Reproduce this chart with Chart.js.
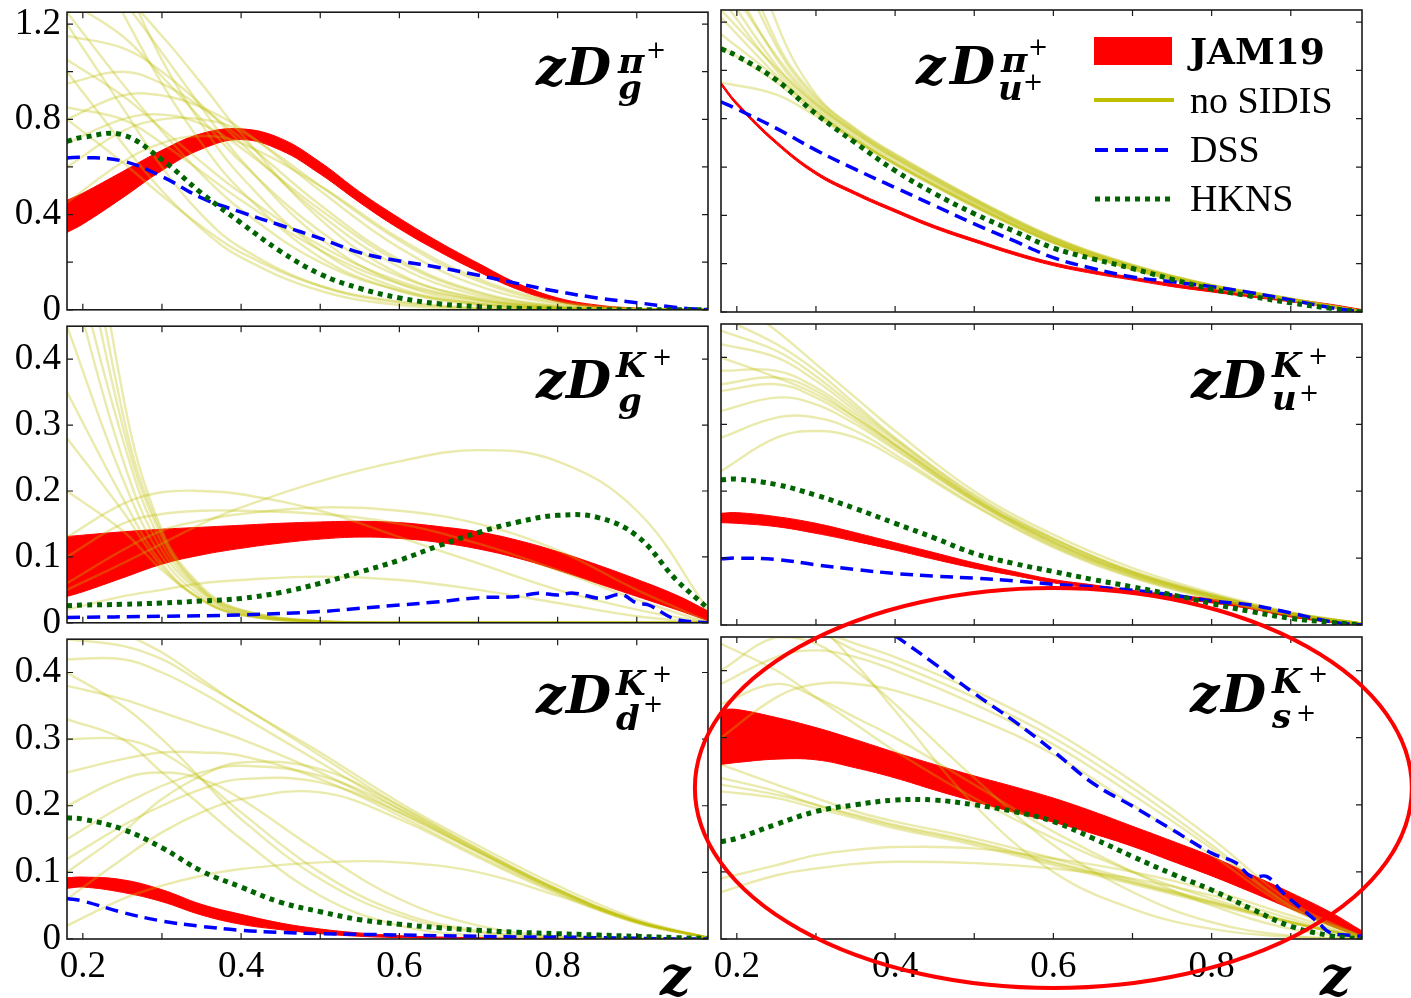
<!DOCTYPE html>
<html>
<head>
<meta charset="utf-8">
<title>Fragmentation functions</title>
<script src="https://cdn.jsdelivr.net/npm/chart.js@4.4.1/dist/chart.umd.min.js"></script>
<style>
  html, body { margin: 0; padding: 0; background: #fff; }
  #page { position: relative; width: 1411px; height: 998px; overflow: hidden; font-family: "Liberation Serif", "Times New Roman", serif; }
  #page canvas { position: absolute; }
  .glyph { position: absolute; white-space: nowrap; line-height: 1; color: #000; }
</style>
</head>
<body>
<div id="page"></div>
<script>
// ---- z grids ----
const zGrid = [0.18, 0.2, 0.25, 0.3, 0.35, 0.4, 0.45, 0.5, 0.55, 0.6, 0.65, 0.7, 0.75, 0.8, 0.85, 0.9, 0.95, 0.99];
const zRep = [0.18, 0.25, 0.3, 0.35, 0.4, 0.5, 0.6, 0.7, 0.8, 0.9, 0.99];

// ---- zD_g^pi+ ----
const jamLo_gPi = [0.325, 0.36, 0.47, 0.585, 0.675, 0.715, 0.67, 0.57, 0.45, 0.34, 0.245, 0.16, 0.085, 0.035, 0.012, 0.003, 0, 0];
const jamHi_gPi = [0.46, 0.49, 0.58, 0.67, 0.74, 0.76, 0.72, 0.62, 0.495, 0.385, 0.285, 0.195, 0.11, 0.05, 0.02, 0.007, 0.001, 0];
const dss_gPi = [0.638, 0.64, 0.625, 0.56, 0.47, 0.41, 0.355, 0.3, 0.24, 0.205, 0.178, 0.145, 0.11, 0.077, 0.05, 0.03, 0.01, 0];
const hkns_gPi = [0.708, 0.725, 0.735, 0.63, 0.49, 0.365, 0.245, 0.15, 0.09, 0.05, 0.025, 0.013, 0.006, 0.003, 0.001, 0, 0, 0];
const noSidis_gPi = [
  [1.7, 1.25, 0.95, 0.7, 0.5, 0.22, 0.08, 0.02, 0.004, 0, 0],
  [1.55, 1.3, 1.08, 0.85, 0.63, 0.3, 0.11, 0.03, 0.005, 0, 0],
  [1.45, 1.32, 1.15, 0.95, 0.74, 0.38, 0.15, 0.045, 0.008, 0, 0],
  [1.15, 1.1, 1.0, 0.86, 0.7, 0.4, 0.18, 0.06, 0.012, 0.001, 0],
  [0.95, 1.0, 0.95, 0.85, 0.72, 0.44, 0.21, 0.075, 0.016, 0.001, 0],
  [0.8, 0.9, 0.9, 0.85, 0.76, 0.5, 0.26, 0.1, 0.025, 0.003, 0],
  [0.6, 0.75, 0.8, 0.8, 0.75, 0.52, 0.29, 0.12, 0.03, 0.004, 0],
  [0.45, 0.62, 0.7, 0.73, 0.7, 0.52, 0.3, 0.13, 0.035, 0.005, 0],
  [1.25, 0.95, 0.75, 0.57, 0.42, 0.2, 0.08, 0.025, 0.005, 0, 0],
  [0.85, 0.8, 0.7, 0.58, 0.46, 0.25, 0.11, 0.04, 0.008, 0, 0],
  [1.05, 0.9, 0.76, 0.62, 0.49, 0.27, 0.12, 0.04, 0.008, 0, 0],
  [0.7, 0.8, 0.82, 0.78, 0.68, 0.42, 0.2, 0.07, 0.015, 0.001, 0],
  [1.9, 1.4, 1.05, 0.78, 0.56, 0.25, 0.09, 0.025, 0.004, 0, 0],
  [1.3, 1.15, 0.98, 0.8, 0.62, 0.33, 0.14, 0.05, 0.01, 0, 0],
  [1.0, 0.7, 0.5, 0.34, 0.22, 0.08, 0.02, 0.004, 0, 0, 0],
  [1.2, 0.85, 0.6, 0.4, 0.26, 0.1, 0.03, 0.006, 0, 0, 0],
  [0.8, 0.62, 0.48, 0.35, 0.24, 0.1, 0.035, 0.008, 0, 0, 0]
];

// ---- zD_u+^pi+ ----
const jamLo_uPi = [0.939, 0.856, 0.695, 0.569, 0.485, 0.413, 0.346, 0.29, 0.237, 0.192, 0.159, 0.132, 0.105, 0.083, 0.062, 0.042, 0.02, 0.001];
const jamHi_uPi = [0.951, 0.868, 0.707, 0.581, 0.497, 0.425, 0.358, 0.302, 0.249, 0.204, 0.171, 0.144, 0.117, 0.095, 0.074, 0.054, 0.032, 0.01];
const dss_uPi = [0.87, 0.84, 0.76, 0.67, 0.59, 0.515, 0.44, 0.365, 0.295, 0.225, 0.18, 0.145, 0.125, 0.105, 0.08, 0.05, 0.018, 0];
const hkns_uPi = [1.09, 1.06, 0.96, 0.82, 0.7, 0.585, 0.49, 0.407, 0.335, 0.265, 0.22, 0.18, 0.135, 0.095, 0.065, 0.038, 0.015, 0];
const noSidis_uPi = [
  [1.45, 1.05, 0.86, 0.74, 0.64, 0.46, 0.3, 0.19, 0.11, 0.054, 0.003],
  [1.35, 1.02, 0.85, 0.73, 0.63, 0.45, 0.295, 0.185, 0.107, 0.052, 0.003],
  [1.3, 1.0, 0.84, 0.72, 0.62, 0.445, 0.29, 0.18, 0.105, 0.05, 0.003],
  [1.22, 0.98, 0.83, 0.715, 0.615, 0.44, 0.288, 0.178, 0.103, 0.049, 0.002],
  [1.15, 0.97, 0.83, 0.71, 0.61, 0.435, 0.285, 0.176, 0.1, 0.048, 0.002],
  [0.95, 0.9, 0.81, 0.71, 0.615, 0.44, 0.29, 0.18, 0.104, 0.05, 0.003],
  [1.6, 1.1, 0.88, 0.75, 0.65, 0.47, 0.31, 0.195, 0.112, 0.056, 0.003],
  [1.25, 1.01, 0.86, 0.74, 0.635, 0.455, 0.3, 0.19, 0.11, 0.054, 0.003],
  [1.9, 1.2, 0.9, 0.76, 0.655, 0.47, 0.31, 0.195, 0.11, 0.055, 0.003],
  [1.4, 1.06, 0.87, 0.745, 0.64, 0.46, 0.302, 0.188, 0.108, 0.053, 0.003],
  [1.7, 1.12, 0.89, 0.755, 0.648, 0.465, 0.306, 0.192, 0.111, 0.055, 0.003],
  [1.1, 0.95, 0.82, 0.712, 0.612, 0.438, 0.287, 0.177, 0.102, 0.049, 0.002]
];

// ---- zD_g^K+ ----
const jamLo_gK = [0.04, 0.047, 0.068, 0.089, 0.103, 0.113, 0.121, 0.127, 0.13, 0.128, 0.122, 0.112, 0.098, 0.08, 0.06, 0.04, 0.02, 0.003];
const jamHi_gK = [0.131, 0.133, 0.138, 0.142, 0.145, 0.148, 0.151, 0.153, 0.154, 0.152, 0.146, 0.138, 0.125, 0.108, 0.088, 0.066, 0.042, 0.018];
const dssZ_gK = [0.18, 0.3, 0.4, 0.5, 0.55, 0.6, 0.65, 0.7, 0.75, 0.775, 0.8, 0.82, 0.855, 0.88, 0.9, 0.915, 0.95, 0.99];
const dss_gK = [0.008, 0.01, 0.012, 0.017, 0.022, 0.027, 0.032, 0.038, 0.04, 0.045, 0.042, 0.045, 0.037, 0.043, 0.03, 0.027, 0.005, 0];
const hkns_gK = [0.026, 0.027, 0.028, 0.03, 0.033, 0.037, 0.046, 0.06, 0.077, 0.095, 0.117, 0.137, 0.153, 0.163, 0.16, 0.132, 0.065, 0.022];
const noSidis_gK = [
  [0.7, 0.3, 0.13, 0.05, 0.018, 0.002, 0, 0, 0, 0, 0],
  [0.55, 0.25, 0.11, 0.045, 0.015, 0.002, 0, 0, 0, 0, 0],
  [0.45, 0.22, 0.1, 0.04, 0.014, 0.002, 0, 0, 0, 0, 0],
  [0.35, 0.19, 0.09, 0.035, 0.012, 0.001, 0, 0, 0, 0, 0],
  [0.28, 0.17, 0.085, 0.035, 0.012, 0.001, 0, 0, 0, 0, 0],
  [0.2, 0.14, 0.08, 0.035, 0.012, 0.001, 0, 0, 0, 0, 0],
  [0.9, 0.35, 0.14, 0.055, 0.02, 0.002, 0, 0, 0, 0, 0],
  [0.6, 0.28, 0.12, 0.048, 0.016, 0.002, 0, 0, 0, 0, 0],
  [0.8, 0.32, 0.135, 0.052, 0.019, 0.002, 0, 0, 0, 0, 0],
  [0.05, 0.09, 0.12, 0.15, 0.175, 0.215, 0.245, 0.262, 0.245, 0.17, 0.02],
  [0.13, 0.18, 0.198, 0.2, 0.195, 0.17, 0.13, 0.09, 0.05, 0.02, 0],
  [0.1, 0.15, 0.165, 0.17, 0.17, 0.165, 0.15, 0.12, 0.08, 0.035, 0],
  [0.06, 0.11, 0.14, 0.155, 0.165, 0.175, 0.17, 0.15, 0.11, 0.05, 0.002],
  [0.02, 0.04, 0.05, 0.06, 0.065, 0.07, 0.065, 0.05, 0.03, 0.01, 0]
];

// ---- zD_u+^K+ ----
const jamLo_uK = [0.153, 0.152, 0.147, 0.137, 0.125, 0.112, 0.098, 0.085, 0.074, 0.063, 0.055, 0.047, 0.04, 0.033, 0.024, 0.012, 0.004, 0];
const jamHi_uK = [0.167, 0.168, 0.162, 0.152, 0.138, 0.123, 0.108, 0.093, 0.08, 0.068, 0.06, 0.052, 0.045, 0.039, 0.029, 0.018, 0.008, 0.002];
const dss_uK = [0.099, 0.1, 0.098, 0.09, 0.083, 0.077, 0.073, 0.07, 0.066, 0.061, 0.057, 0.052, 0.045, 0.036, 0.03, 0.018, 0.005, 0];
const hkns_uK = [0.217, 0.218, 0.21, 0.194, 0.174, 0.152, 0.13, 0.107, 0.092, 0.08, 0.068, 0.057, 0.045, 0.032, 0.02, 0.01, 0.004, 0];
const noSidis_uK = [
  [0.46, 0.42, 0.38, 0.33, 0.28, 0.195, 0.13, 0.08, 0.045, 0.018, 0.002],
  [0.42, 0.4, 0.365, 0.32, 0.275, 0.19, 0.125, 0.078, 0.044, 0.017, 0.002],
  [0.38, 0.38, 0.355, 0.315, 0.27, 0.19, 0.125, 0.077, 0.043, 0.017, 0.002],
  [0.35, 0.36, 0.34, 0.305, 0.265, 0.185, 0.122, 0.075, 0.042, 0.016, 0.002],
  [0.32, 0.34, 0.33, 0.3, 0.262, 0.185, 0.12, 0.074, 0.041, 0.016, 0.002],
  [0.28, 0.31, 0.31, 0.29, 0.255, 0.18, 0.118, 0.072, 0.04, 0.015, 0.002],
  [0.23, 0.28, 0.29, 0.28, 0.25, 0.178, 0.116, 0.071, 0.039, 0.015, 0.002],
  [0.5, 0.44, 0.39, 0.34, 0.29, 0.2, 0.135, 0.085, 0.048, 0.019, 0.002],
  [0.4, 0.37, 0.345, 0.31, 0.27, 0.188, 0.128, 0.08, 0.046, 0.018, 0.002],
  [0.44, 0.41, 0.372, 0.325, 0.278, 0.193, 0.129, 0.079, 0.045, 0.018, 0.002],
  [0.36, 0.37, 0.35, 0.31, 0.268, 0.187, 0.123, 0.076, 0.043, 0.017, 0.002]
];

// ---- zD_d+^K+ ----
const jamLo_dK = [0.076, 0.078, 0.07, 0.056, 0.036, 0.022, 0.014, 0.008, 0.004, 0.002, 0.001, 0, 0, 0, 0, 0, 0, 0];
const jamHi_dK = [0.092, 0.093, 0.089, 0.074, 0.052, 0.037, 0.024, 0.015, 0.009, 0.005, 0.003, 0.002, 0.001, 0.001, 0, 0, 0, 0];
const dss_dK = [0.061, 0.057, 0.04, 0.027, 0.019, 0.013, 0.01, 0.008, 0.007, 0.006, 0.005, 0.004, 0.003, 0.003, 0.002, 0.001, 0, 0];
const hkns_dK = [0.182, 0.18, 0.165, 0.137, 0.102, 0.078, 0.055, 0.041, 0.029, 0.022, 0.017, 0.013, 0.01, 0.008, 0.006, 0.004, 0.002, 0.001];
const noSidis_dK = [
  [0.5, 0.46, 0.43, 0.39, 0.35, 0.28, 0.205, 0.14, 0.08, 0.03, 0.002],
  [0.45, 0.44, 0.42, 0.385, 0.35, 0.275, 0.2, 0.135, 0.075, 0.027, 0.002],
  [0.38, 0.36, 0.34, 0.32, 0.3, 0.25, 0.19, 0.13, 0.072, 0.026, 0.002],
  [0.25, 0.27, 0.28, 0.28, 0.275, 0.24, 0.185, 0.125, 0.07, 0.025, 0.002],
  [0.12, 0.17, 0.2, 0.225, 0.24, 0.235, 0.19, 0.13, 0.072, 0.026, 0.002],
  [0.06, 0.12, 0.16, 0.19, 0.21, 0.22, 0.18, 0.122, 0.068, 0.024, 0.002],
  [0.3, 0.3, 0.28, 0.24, 0.19, 0.1, 0.04, 0.012, 0.002, 0, 0],
  [0.4, 0.35, 0.3, 0.24, 0.18, 0.09, 0.035, 0.01, 0.002, 0, 0],
  [0.2, 0.24, 0.25, 0.24, 0.21, 0.13, 0.06, 0.02, 0.004, 0, 0],
  [0.02, 0.06, 0.08, 0.095, 0.105, 0.115, 0.115, 0.1, 0.065, 0.025, 0.002],
  [0.15, 0.2, 0.23, 0.25, 0.26, 0.245, 0.195, 0.132, 0.073, 0.026, 0.002],
  [0.33, 0.3, 0.25, 0.2, 0.15, 0.065, 0.02, 0.005, 0, 0, 0],
  [0.42, 0.42, 0.4, 0.37, 0.335, 0.265, 0.195, 0.132, 0.074, 0.027, 0.002],
  [0.1, 0.16, 0.21, 0.245, 0.265, 0.255, 0.2, 0.135, 0.075, 0.027, 0.002]
];

// ---- zD_s+^K+ ----
const jamLo_sK = [0.26, 0.263, 0.268, 0.267, 0.255, 0.24, 0.222, 0.205, 0.189, 0.174, 0.157, 0.138, 0.116, 0.094, 0.07, 0.045, 0.02, 0.002];
const jamHi_sK = [0.342, 0.342, 0.33, 0.315, 0.297, 0.278, 0.26, 0.243, 0.227, 0.21, 0.19, 0.168, 0.146, 0.123, 0.096, 0.069, 0.04, 0.012];
const dssZ_sK = [0.4, 0.45, 0.5, 0.55, 0.6, 0.65, 0.7, 0.75, 0.8, 0.83, 0.85, 0.87, 0.89, 0.915, 0.935, 0.95, 0.97, 0.99];
const dss_sK = [0.452, 0.41, 0.366, 0.325, 0.28, 0.232, 0.198, 0.163, 0.128, 0.114, 0.093, 0.093, 0.069, 0.044, 0.024, 0.009, 0.006, 0.004];
const hkns_sK = [0.145, 0.15, 0.171, 0.19, 0.2, 0.207, 0.207, 0.2, 0.19, 0.175, 0.15, 0.123, 0.097, 0.073, 0.045, 0.019, 0.005, 0];
const noSidis_sK = [
  [0.5, 0.48, 0.46, 0.43, 0.41, 0.36, 0.3, 0.225, 0.14, 0.05, 0.003],
  [0.45, 0.47, 0.46, 0.44, 0.42, 0.37, 0.31, 0.235, 0.15, 0.055, 0.003],
  [0.38, 0.42, 0.43, 0.42, 0.4, 0.35, 0.29, 0.215, 0.135, 0.048, 0.003],
  [0.3, 0.36, 0.38, 0.38, 0.37, 0.33, 0.275, 0.2, 0.125, 0.045, 0.003],
  [0.45, 0.5, 0.47, 0.41, 0.34, 0.2, 0.1, 0.045, 0.015, 0.003, 0],
  [0.4, 0.45, 0.44, 0.4, 0.35, 0.24, 0.14, 0.07, 0.025, 0.005, 0],
  [0.24, 0.22, 0.2, 0.185, 0.17, 0.145, 0.115, 0.085, 0.055, 0.025, 0.002],
  [0.26, 0.23, 0.21, 0.19, 0.175, 0.15, 0.12, 0.088, 0.056, 0.026, 0.002],
  [0.22, 0.21, 0.195, 0.18, 0.165, 0.14, 0.11, 0.082, 0.052, 0.024, 0.002],
  [0.09, 0.11, 0.125, 0.133, 0.137, 0.135, 0.12, 0.1, 0.072, 0.035, 0.003],
  [0.07, 0.095, 0.105, 0.112, 0.115, 0.113, 0.105, 0.09, 0.065, 0.03, 0.002],
  [0.35, 0.38, 0.36, 0.33, 0.3, 0.23, 0.16, 0.1, 0.05, 0.015, 0.001],
  [0.44, 0.4, 0.36, 0.32, 0.28, 0.21, 0.15, 0.1, 0.06, 0.025, 0.002],
  [0.23, 0.215, 0.2, 0.183, 0.168, 0.143, 0.113, 0.084, 0.054, 0.025, 0.002]
];

// legend entries
const legendNames = ['JAM19', 'no SIDIS', 'DSS', 'HKNS'];

// ---- layout ----
const FONT = '"Liberation Serif", "Times New Roman", serif';
const MATH = '"DejaVu Serif", serif';
const colX = [[67, 708], [721, 1362]];
const rowY = [[10, 312], [324, 625], [637, 939]];
const RED = '#ff0000', OLIVE = 'rgba(191,191,0,0.32)', BLUE = '#0000ff', GREEN = '#006400';

const page = document.getElementById('page');

// place a text run by its baseline (m = DejaVu Serif, otherwise Liberation Serif)
function addGlyph(text, left, baseline, size, style) {
  const el = document.createElement('span');
  const math = style.indexOf('m') >= 0;
  el.className = 'glyph';
  el.textContent = text;
  el.style.fontFamily = math ? MATH : FONT;
  el.style.fontSize = size + 'px';
  el.style.left = left + 'px';
  el.style.top = (baseline - (math ? 0.846 : 0.8375) * size) + 'px';
  if (style.indexOf('b') >= 0) el.style.fontWeight = 'bold';
  if (style.indexOf('i') >= 0) el.style.fontStyle = 'italic';
  page.appendChild(el);
  return el;
}

// inward ticks on all four sides plus the frame
const framePlugin = {
  id: 'frame',
  afterDatasetsDraw(chart) {
    const { ctx, chartArea: a, scales: { x, y } } = chart;
    ctx.save();
    ctx.strokeStyle = '#1a1a1a';
    ctx.lineWidth = 1.2;
    ctx.beginPath();
    x.ticks.forEach(t => {
      const px = x.getPixelForValue(t.value);
      ctx.moveTo(px, a.top); ctx.lineTo(px, a.top + 6);
      ctx.moveTo(px, a.bottom); ctx.lineTo(px, a.bottom - 6);
    });
    y.ticks.forEach(t => {
      const py = y.getPixelForValue(t.value);
      ctx.moveTo(a.left, py); ctx.lineTo(a.left + 6, py);
      ctx.moveTo(a.right, py); ctx.lineTo(a.right - 6, py);
    });
    ctx.stroke();
    ctx.lineWidth = 1.6;
    ctx.strokeRect(a.left, a.top, a.right - a.left, a.bottom - a.top);
    ctx.restore();
  }
};

function pts(zs, vs) { return vs.map((v, i) => ({ x: zs[i], y: v })); }

// title pieces: [text, left, baseline, size, style] relative to the panel box
const panels = [
  { col: 0, row: 0, yMax: 1.25, yStep: 0.2, every: 2, lo: jamLo_gPi, hi: jamHi_gPi, dssZ: zGrid, dss: dss_gPi, hkns: hkns_gPi, reps: noSidis_gPi,
    title: [['z', 469, 75, 52, 'mbi'], ['D', 499, 75, 52, 'mbi'], ['\u03c0', 551, 62, 36, 'mbi'], ['+', 579, 48, 24, 'm'], ['g', 551, 89, 34, 'mbi']] },
  { col: 1, row: 0, yMax: 1.25, yStep: 0.2, every: 2, lo: jamLo_uPi, hi: jamHi_uPi, dssZ: zGrid, dss: dss_uPi, hkns: hkns_uPi, reps: noSidis_uPi,
    title: [['z', 195, 74, 52, 'mbi'], ['D', 229, 74, 52, 'mbi'], ['\u03c0', 280, 61, 36, 'mbi'], ['+', 307, 45, 24, 'm'], ['u', 277, 90, 34, 'mbi'], ['+', 302, 80, 24, 'm']] },
  { col: 0, row: 1, yMax: 0.45, yStep: 0.1, every: 1, lo: jamLo_gK, hi: jamHi_gK, dssZ: dssZ_gK, dss: dss_gK, hkns: hkns_gK, reps: noSidis_gK,
    title: [['z', 469, 74, 52, 'mbi'], ['D', 499, 74, 52, 'mbi'], ['K', 549, 53, 34, 'mbi'], ['+', 585, 41, 24, 'm'], ['g', 551, 88, 34, 'mbi']] },
  { col: 1, row: 1, yMax: 0.45, yStep: 0.1, every: 1, lo: jamLo_uK, hi: jamHi_uK, dssZ: zGrid, dss: dss_uK, hkns: hkns_uK, reps: noSidis_uK,
    title: [['z', 470, 74, 52, 'mbi'], ['D', 500, 74, 52, 'mbi'], ['K', 551, 53, 34, 'mbi'], ['+', 587, 40, 24, 'm'], ['u', 551, 86, 34, 'mbi'], ['+', 578, 77, 24, 'm']] },
  { col: 0, row: 2, yMax: 0.45, yStep: 0.1, every: 1, lo: jamLo_dK, hi: jamHi_dK, dssZ: zGrid, dss: dss_dK, hkns: hkns_dK, reps: noSidis_dK,
    title: [['z', 469, 76, 52, 'mbi'], ['D', 499, 76, 52, 'mbi'], ['K', 549, 58, 34, 'mbi'], ['+', 585, 45, 24, 'm'], ['d', 549, 93, 34, 'mbi'], ['+', 576, 75, 24, 'm']] },
  { col: 1, row: 2, yMax: 0.45, yStep: 0.1, every: 1, lo: jamLo_sK, hi: jamHi_sK, dssZ: dssZ_sK, dss: dss_sK, hkns: hkns_sK, reps: noSidis_sK,
    title: [['z', 469, 75, 52, 'mbi'], ['D', 500, 75, 52, 'mbi'], ['K', 551, 56, 34, 'mbi'], ['+', 587, 45, 24, 'm'], ['s', 551, 91, 34, 'mbi'], ['+', 575, 84, 24, 'm']] }
];

const charts = [];

panels.forEach(p => {
  const [l, r] = colX[p.col];
  const [t, b] = rowY[p.row];
  const ML = p.col === 0 ? 67 : 20, MR = 6, MT = 26, MB = p.row === 2 ? 60 : 26;
  const cv = document.createElement('canvas');
  cv.width = (r - l) + ML + MR;
  cv.height = (b - t) + MT + MB;
  cv.style.left = (l - ML) + 'px';
  cv.style.top = (t - MT) + 'px';
  page.appendChild(cv);

  const datasets = [
    { label: 'HKNS', data: pts(zGrid, p.hkns), borderColor: GREEN, borderWidth: 5, borderDash: [5, 5], order: 0 },
    { label: 'DSS', data: pts(p.dssZ, p.dss), borderColor: BLUE, borderWidth: 3.5, borderDash: [13, 7], order: 1 }
  ];
  p.reps.forEach(rep => datasets.push({ label: 'no SIDIS', data: pts(zRep, rep), borderColor: OLIVE, borderWidth: 2.4, order: 2 }));
  datasets.push({ label: 'JAM19', data: pts(zGrid, p.hi), borderColor: RED, backgroundColor: RED, borderWidth: 1, fill: '+1', order: 3 });
  datasets.push({ label: 'JAM19 lower', data: pts(zGrid, p.lo), borderColor: RED, borderWidth: 1, fill: false, order: 4 });

  const chart = new Chart(cv, {
    type: 'line',
    data: { datasets },
    options: {
      responsive: false,
      animation: false,
      devicePixelRatio: 1,
      events: [],
      layout: { padding: { left: 0, right: MR, top: MT, bottom: 0 } },
      plugins: { legend: { display: false }, tooltip: { enabled: false } },
      elements: {
        point: { radius: 0 },
        line: { tension: 0.4, borderCapStyle: 'butt', borderJoinStyle: 'round' }
      },
      scales: {
        x: {
          type: 'linear', min: 0.18, max: 0.99,
          afterFit: s => { s.height = MB; },
          grid: { display: false, drawTicks: false }, border: { display: false },
          ticks: {
            display: p.row === 2, stepSize: 0.1, includeBounds: false, autoSkip: false, maxRotation: 0,
            padding: 6, color: '#000', font: { family: FONT, size: 37 },
            callback: v => (Math.round(v * 10) % 2 === 0 ? v.toFixed(1) : '')
          }
        },
        y: {
          type: 'linear', min: 0, max: p.yMax,
          afterFit: s => { s.width = ML; },
          grid: { display: false, drawTicks: false }, border: { display: false },
          ticks: {
            display: p.col === 0, stepSize: p.yStep, includeBounds: false, autoSkip: false,
            padding: 6, color: '#000', font: { family: FONT, size: 37 },
            callback: v => {
              const k = Math.round(v / p.yStep);
              if (k % p.every !== 0) return '';
              return k === 0 ? '0' : v.toFixed(1);
            }
          }
        }
      }
    },
    plugins: [framePlugin]
  });
  charts.push({ chart, left: l - ML, top: t - MT });

  p.title.forEach(g => addGlyph(g[0], l + g[1], t + g[2], g[3], g[4]));
});

// z axis labels under the bottom row
addGlyph('z', 660, 995, 54, 'mbi');
addGlyph('z', 1320, 995, 54, 'mbi');

// legend inside the top-right panel
const svgNS = 'http://www.w3.org/2000/svg';
const svg = document.createElementNS(svgNS, 'svg');
svg.setAttribute('width', 1411);
svg.setAttribute('height', 998);
svg.style.position = 'absolute';
svg.style.left = '0px';
svg.style.top = '0px';
svg.innerHTML =
  '<rect x="1094" y="37" width="78" height="28" fill="' + RED + '"/>' +
  '<line x1="1094" y1="100" x2="1174" y2="100" stroke="#bfbf00" stroke-width="4"/>' +
  '<line x1="1095" y1="150" x2="1170" y2="150" stroke="' + BLUE + '" stroke-width="4" stroke-dasharray="13 7"/>' +
  '<line x1="1095" y1="199" x2="1172" y2="199" stroke="' + GREEN + '" stroke-width="5" stroke-dasharray="5 5"/>';
page.appendChild(svg);
addGlyph(legendNames[0], 1190, 63, 36, 'mb');
addGlyph(legendNames[1], 1190, 113, 38, 'n');
addGlyph(legendNames[2], 1190, 162, 38, 'n');
addGlyph(legendNames[3], 1190, 211, 38, 'n');

// highlight ring around the s+ -> K+ panel, placed in that panel's data units
const ring = { z: 0.6, v: 0.225, dz: 0.453, dv: 0.298 };
const last = charts[charts.length - 1];
const sx = last.chart.scales.x, sy = last.chart.scales.y;
const over = document.createElement('canvas');
over.width = 1411;
over.height = 998;
over.style.left = '0px';
over.style.top = '0px';
page.appendChild(over);
const octx = over.getContext('2d');
const cx = last.left + sx.getPixelForValue(ring.z);
const cy = last.top + sy.getPixelForValue(ring.v);
const rx = sx.getPixelForValue(ring.z + ring.dz) - sx.getPixelForValue(ring.z);
const ry = sy.getPixelForValue(ring.v) - sy.getPixelForValue(ring.v + ring.dv);
octx.strokeStyle = RED;
octx.lineWidth = 4;
octx.beginPath();
octx.ellipse(cx, cy, rx, ry, 0, 0, Math.PI * 2);
octx.stroke();
</script>
</body>
</html>
